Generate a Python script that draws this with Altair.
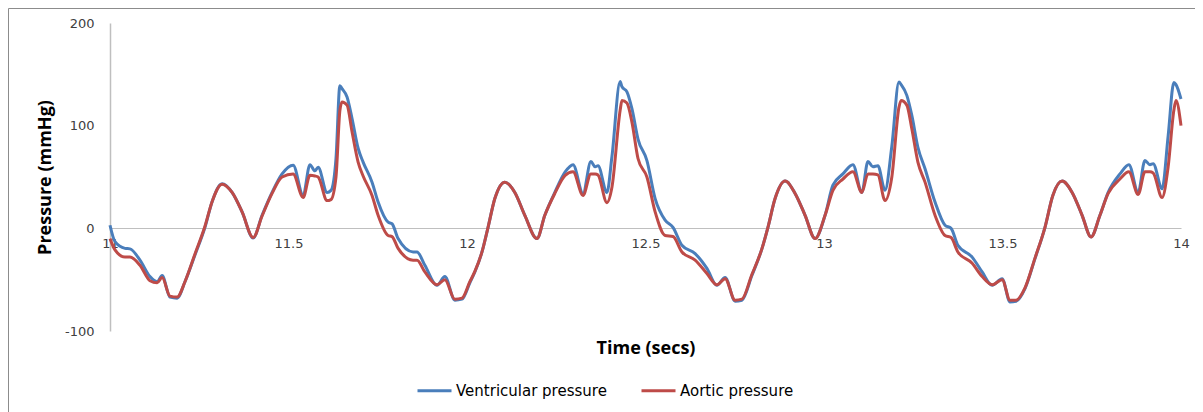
import altair as alt
import pandas as pd

# Time (secs)
time = [11.000, 11.014, 11.042, 11.056, 11.084, 11.112, 11.132, 11.146, 11.168, 11.188,
        11.210, 11.238, 11.266, 11.286, 11.314, 11.342, 11.370, 11.401, 11.426, 11.454,
        11.482, 11.513, 11.541, 11.560, 11.574, 11.583, 11.608, 11.619, 11.633, 11.644,
        11.650, 11.664, 11.678, 11.695, 11.709, 11.734, 11.751, 11.779, 11.790, 11.807,
        11.849, 11.860, 11.882, 11.916, 11.938, 11.966, 11.986, 12.008, 12.022, 12.042,
        12.059, 12.078, 12.106, 12.134, 12.162, 12.196, 12.218, 12.246, 12.275, 12.297,
        12.325, 12.347, 12.359, 12.367, 12.392, 12.406, 12.429, 12.434, 12.448, 12.462,
        12.479, 12.504, 12.527, 12.555, 12.577, 12.602, 12.639, 12.672, 12.700, 12.723,
        12.751, 12.770, 12.798, 12.826, 12.843, 12.863, 12.891, 12.919, 12.947, 12.975,
        13.003, 13.025, 13.053, 13.081, 13.106, 13.123, 13.137, 13.151, 13.171, 13.190,
        13.210, 13.216, 13.232, 13.246, 13.263, 13.283, 13.311, 13.339, 13.356, 13.375,
        13.415, 13.443, 13.471, 13.499, 13.521, 13.538, 13.563, 13.591, 13.619, 13.641,
        13.667, 13.695, 13.723, 13.748, 13.773, 13.796, 13.829, 13.854, 13.880, 13.899,
        13.913, 13.922, 13.947, 13.964, 13.980, 13.986, 14.000]

# Ventricular pressure (mmHg)
ventricular = [3, -13, -19.5, -20, -31, -47, -52, -46, -67, -68,
               -52, -26, 1, 26, 43.5, 35, 16, -9.4, 12.7, 35,
               53, 61.5, 32, 62, 56, 59.6, 35, 37, 68, 139,
               136, 128, 107, 78, 64.5, 45, 25.6, 6, 4.5, -10,
               -23, -23, -36, -55.5, -47, -70, -69, -53, -42.5, -23,
               1, 29, 45, 35, 12.7, -10, 12.7, 35, 55, 62,
               34, 65, 60, 61, 35, 70, 143, 138, 133, 116.6,
               87, 66, 29, 8, 1, -16.5, -24.6, -39, -55.5, -48,
               -71, -70, -46, -20, 1, 29, 46, 34, 12.7, -10,
               12.7, 42, 53, 62, 35, 65, 60, 61, 37, 80,
               142.5, 140, 129.5, 110, 79, 58, 25.6, 3, 0, -16.5,
               -28, -42.5, -55.5, -49, -71.7, -71, -58.7, -29.5, 1, 32,
               46, 35, 12.7, -8.4, 12.7, 35, 53, 62, 35, 66,
               62, 63, 38.6, 90, 142, 140, 126]

# Aortic pressure (mmHg)
aortic = [-10, -21, -28, -28, -36, -51, -53, -48, -66, -67,
          -52, -25, 2, 26, 43, 35, 16, -9, 12, 34,
          50, 53, 30, 51.6, 51, 50, 27, 28, 50, 115,
          123, 120, 94, 64.5, 51, 32, 12.7, -7, -8, -19.5,
          -31, -31, -42.5, -55, -50, -69, -68, -52, -42, -23,
          1, 29, 45, 35, 12.7, -10, 12.7, 34, 51.6, 55,
          32, 53, 53, 52, 25, 40, 115, 124.6, 122, 103.5,
          68, 50, 16, -7, -8, -23, -31, -44, -55, -49,
          -70, -69, -45, -20, 1, 29, 46, 34, 12.7, -10,
          12.7, 37, 48, 55, 35, 53, 53, 52, 27, 50,
          118, 124.6, 120, 97, 64.5, 45, 12.7, -7, -9, -23,
          -34, -47, -55, -50, -70, -70, -58, -29, 1, 32,
          46, 35, 12.7, -8.4, 12.7, 34, 48, 55, 33, 55,
          55, 54, 30, 60, 115, 124.6, 100]

series_names = ["Ventricular pressure", "Aortic pressure"]
series_colors = ["#4a7ebb", "#be4b48"]
x_ticks = [11, 11.5, 12, 12.5, 13, 13.5, 14]
y_ticks = [-100, 0, 100, 200]

rows = []
for t, v in zip(time, ventricular):
    rows.append({"time": t, "pressure": v, "series": series_names[0]})
for t, v in zip(time, aortic):
    rows.append({"time": t, "pressure": v, "series": series_names[1]})
df = pd.DataFrame(rows)

FONT = "Open Sans"
TICKFONT = "DejaVu Sans"

x_enc = alt.X("time:Q",
              scale=alt.Scale(domain=[11, 14], nice=False, zero=False),
              axis=alt.Axis(values=x_ticks, format="~g", title="Time (secs)",
                            offset=-103, ticks=False, tickSize=0, grid=False,
                            domainColor="#bfbfbf", domainWidth=1.2,
                            labelFont=TICKFONT, labelFontSize=13, labelColor="#404040",
                            labelPadding=9, labelFlush=False,
                            titleFont=FONT, titleFontSize=18, titleFontWeight="bold",
                            titleColor="#000000", titleY=120, titleBaseline="middle"))
y_enc = alt.Y("pressure:Q",
              scale=alt.Scale(domain=[-100, 200], nice=False),
              axis=alt.Axis(values=y_ticks, title="Pressure (mmHg)",
                            labelExpr="'' + datum.value",
                            ticks=False, tickSize=0, grid=False,
                            domainColor="#bfbfbf", domainWidth=1.5,
                            labelFont=TICKFONT, labelFontSize=13, labelColor="#404040",
                            labelPadding=16,
                            titleFont=FONT, titleFontSize=18, titleFontWeight="bold",
                            titleColor="#000000", titleX=-65, titleBaseline="middle"))
color_enc = alt.Color("series:N",
                      scale=alt.Scale(domain=series_names, range=series_colors),
                      legend=alt.Legend(title=None, orient="none", direction="horizontal",
                                        legendX=306, legendY=349,
                                        symbolType="stroke", symbolSize=1156,
                                        symbolStrokeWidth=3, labelFont=TICKFONT,
                                        labelFontSize=15, labelColor="#000000",
                                        labelOffset=3, columnPadding=28))

base = alt.Chart(df).mark_line(strokeWidth=3, interpolate="monotone").encode(
    x=x_enc, y=y_enc, color=color_enc, order="time:Q")

blue = base.transform_filter(alt.datum.series == series_names[0])
red = base.transform_filter(alt.datum.series == series_names[1])

border = alt.Chart(pd.DataFrame({"a": [0]})).mark_rect(
    filled=False, stroke="#8c8c8c", strokeWidth=1).encode(
    x=alt.value(-101.5), x2=alt.value(1120), y=alt.value(-14.5), y2=alt.value(420))

chart = alt.layer(border, blue, red).properties(
    width=1071, height=308,
    padding={"left": 102, "top": 15, "right": 14, "bottom": 85},
    autosize=alt.AutoSizeParams(type="none"),
    background="#ffffff",
).configure_view(stroke=None)

chart.save("out.html", embed_options={"renderer": "svg", "actions": False})
